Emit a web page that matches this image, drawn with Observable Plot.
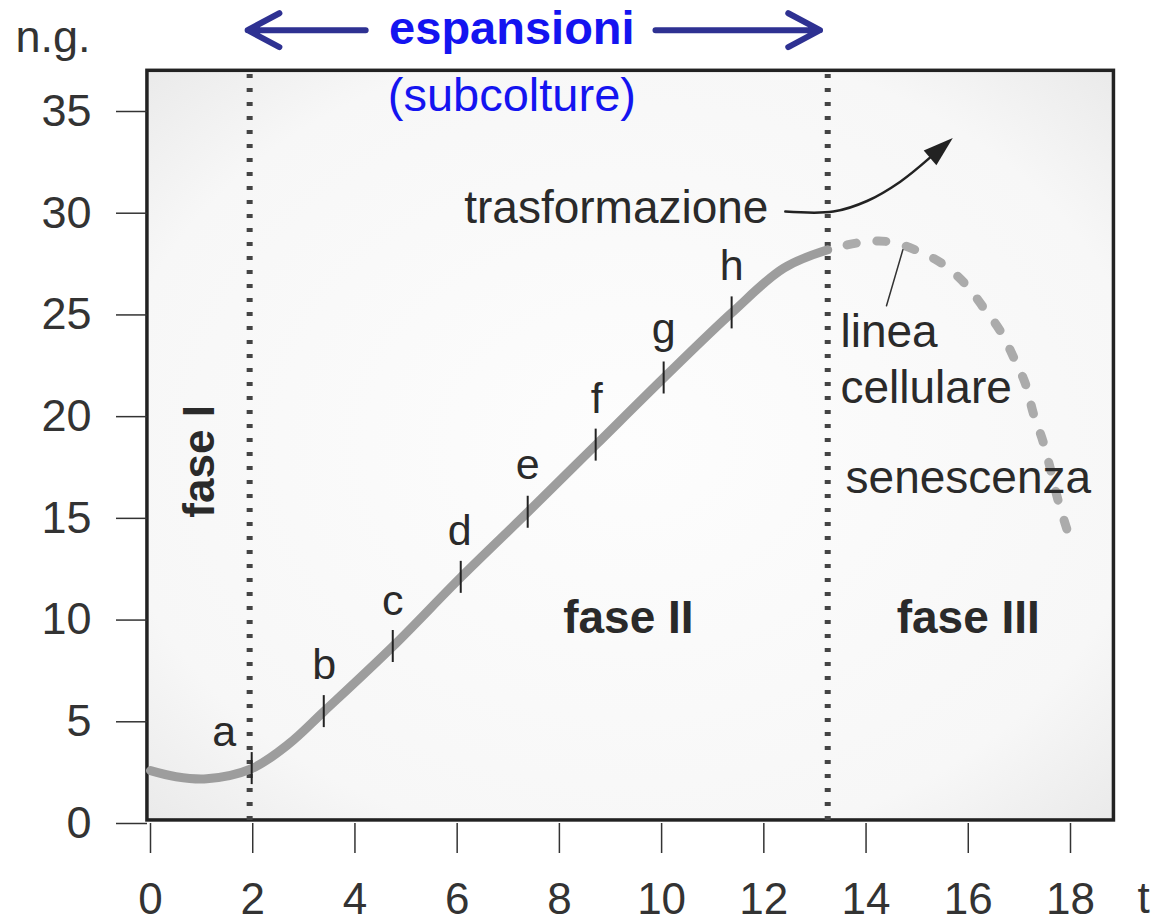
<!DOCTYPE html>
<html><head><meta charset="utf-8">
<script src="https://cdn.jsdelivr.net/npm/d3@7"></script>
<script src="https://cdn.jsdelivr.net/npm/@observablehq/plot@0.6"></script>
<style>body{margin:0;background:#fff;} #chart svg{display:block;}</style>
</head><body><div id="chart"></div>
<script>
// Axis ticks
const xTicks = [0, 2, 4, 6, 8, 10, 12, 14, 16, 18];
const yTicks = [0, 5, 10, 15, 20, 25, 30, 35];

// Growth curve (fase I + fase II): time t vs n.g.
const growthT = [0, 0.5, 1.1, 1.98, 2.7, 3.39, 4.74, 6.07, 7.38, 8.71, 10.04, 11.37, 12.39, 13.25];
const growthV = [2.6, 2.3, 2.2, 2.7, 3.9, 5.5, 8.7, 12.1, 15.3, 18.6, 21.9, 25.1, 27.3, 28.2];

// Senescence (dashed) curve, fase III
const senT = [13.25, 13.86, 14.44, 15.01, 15.5, 15.95, 16.3, 16.63, 16.89, 17.12, 17.28, 17.46, 17.61, 17.75, 17.95];
const senV = [28.2, 28.55, 28.6, 28.15, 27.5, 26.5, 25.35, 24.2, 22.9, 21.6, 20.1, 18.8, 17.4, 15.95, 14.3];

// Subculture marks a–h on the curve
const subNames = ["a", "b", "c", "d", "e", "f", "g", "h"];
const subT = [1.98, 3.39, 4.74, 6.07, 7.38, 8.71, 10.04, 11.37];
const subV = [2.7, 5.5, 8.7, 12.1, 15.3, 18.6, 21.9, 25.1];
const subLabelT = [1.44, 3.4, 4.74, 6.05, 7.38, 8.73, 10.04, 11.37];
const subLabelV = [4.5, 7.8, 10.95, 14.35, 17.6, 20.85, 24.3, 27.4];

// Phase boundaries (dotted lines)
const boundaries = [1.94, 13.25];

// Plot frame extents
const frameX = [-0.06, 18.85];
const frameY = [0.15, 37.0];

// Transformation arrow path
const transfT = [12.42, 13.36, 14.02, 14.67, 15.25];
const transfV = [30.08, 30.08, 30.6, 31.55, 32.73];
const transfHead = {t: 15.43, v: 33.11};

// Pointer from "linea cellulare" to the senescence curve
const pointerT = [14.72, 14.40];
const pointerV = [28.2, 25.45];

// Blue expansion arrows (top)
const expArrows = [
  {t1: 4.21, t2: 1.9, v: 39.0},
  {t1: 9.88, t2: 13.1, v: 39.0}
];

// Text annotations
const annEnd = [{text: "trasformazione", t: 12.09, v: 30.25}];
const annStart = [
  {text: "linea", t: 13.5, v: 24.17},
  {text: "cellulare", t: 13.5, v: 21.4},
  {text: "senescenza", t: 13.6, v: 16.97}
];
const annPhases = [
  {text: "fase II", t: 9.35, v: 10.1},
  {text: "fase III", t: 16.0, v: 10.1}
];
const phaseI = [{text: "fase I", t: 0.96, v: 17.8}];
const blueTitle = [{text: "espansioni", t: 7.07, v: 39.06}];
const blueSub = [{text: "(subcolture)", t: 7.07, v: 35.77}];
const yLabel = [{text: "n.g.", t: -2.64, v: 38.63}];
const xLabel = [{text: "t", t: 19.43, v: -3.7}];

const growth = growthT.map((t, i) => ({t, v: growthV[i]}));
const sen = senT.map((t, i) => ({t, v: senV[i]}));
const subs = subNames.map((n, i) => ({n, t: subT[i], v: subV[i], lt: subLabelT[i], lv: subLabelV[i]}));
const transf = transfT.map((t, i) => ({t, v: transfV[i]}));
const pointer = pointerT.map((t, i) => ({t, v: pointerV[i]}));

const arrowHeadSymbol = {
  draw(ctx, size) {
    const s = Math.sqrt(size);
    ctx.moveTo(0, -s * 0.6);
    ctx.lineTo(s * 0.32, s * 0.4);
    ctx.lineTo(-s * 0.32, s * 0.4);
    ctx.closePath();
  }
};

const FONT = "'Liberation Sans', Arial, Helvetica, sans-serif";
const INK = "#2a2a2a";

const chart = Plot.plot({
  width: 1155,
  height: 924,
  marginLeft: 150,
  marginRight: 85,
  marginTop: 111,
  marginBottom: 101,
  style: {fontFamily: FONT, background: "#fff", overflow: "visible"},
  x: {domain: [0, 18], axis: null},
  y: {domain: [0, 35], axis: null},
  marks: [
    // frame
    Plot.rect([{x1: frameX[0], x2: frameX[1], y1: frameY[0], y2: frameY[1]}],
      {x1: "x1", x2: "x2", y1: "y1", y2: "y2", fill: "url(#bgGrad)", stroke: "#222", strokeWidth: 3.5}),
    // axes
    Plot.axisY(yTicks, {tickSize: 31, tickPadding: 25, dx: -3, fontSize: 45, stroke: "#333", fill: "#333", strokeWidth: 1.5, label: null}),
    Plot.axisX(xTicks, {tickSize: 30, tickPadding: 29, fontSize: 44, stroke: "#333", fill: "#333", strokeWidth: 1.5, label: null}),
    // dotted phase boundaries
    Plot.ruleX(boundaries, {y1: frameY[0], y2: frameY[1], stroke: "#444", strokeWidth: 6, strokeDasharray: "4,10"}),
    // growth curve
    Plot.line(growth, {x: "t", y: "v", curve: "catmull-rom", stroke: "#9d9d9d", strokeWidth: 9}),
    // senescence dashed curve
    Plot.line(sen, {x: "t", y: "v", curve: "catmull-rom", stroke: "#ababab", strokeWidth: 9, strokeDasharray: "9,21", strokeDashoffset: -20}),
    // subculture ticks
    Plot.ruleX(subs, {x: "t", y1: "v", y2: "v", insetTop: -16, insetBottom: -16, stroke: "#222", strokeWidth: 2}),
    Plot.text(subs, {x: "lt", y: "lv", text: "n", fontSize: 43, fill: INK}),
    // transformation arrow
    Plot.line(transf, {x: "t", y: "v", curve: "catmull-rom", stroke: "#222", strokeWidth: 2.5}),
    Plot.dot([transfHead], {x: "t", y: "v", symbol: arrowHeadSymbol, r: 17, rotate: 49, fill: "#222", stroke: "none"}),
    // pointer
    Plot.line(pointer, {x: "t", y: "v", stroke: "#333", strokeWidth: 1.5}),
    // annotations
    Plot.text(annEnd, {x: "t", y: "v", text: "text", textAnchor: "end", fontSize: 46, fill: INK}),
    Plot.text(annStart, {x: "t", y: "v", text: "text", textAnchor: "start", fontSize: 46, fill: INK}),
    Plot.text(annPhases, {x: "t", y: "v", text: "text", fontSize: 46, fontWeight: "bold", fill: INK}),
    Plot.text(phaseI, {x: "t", y: "v", text: "text", fontSize: 44, fontWeight: "bold", rotate: -90, fill: INK}),
    Plot.text(yLabel, {x: "t", y: "v", text: "text", textAnchor: "start", fontSize: 45, fill: "#333"}),
    Plot.text(xLabel, {x: "t", y: "v", text: "text", fontSize: 44, fill: "#333"}),
    // blue header
    Plot.arrow(expArrows, {x1: "t1", x2: "t2", y1: "v", y2: "v", stroke: "#2e3192", strokeWidth: 6, headLength: 9, headAngle: 56, strokeLinecap: "round"}),
    Plot.text(blueTitle, {x: "t", y: "v", text: "text", fontSize: 47, fontWeight: "bold", fill: "#1414f0"}),
    Plot.text(blueSub, {x: "t", y: "v", text: "text", fontSize: 47, fill: "#1414f0"})
  ]
});

const svg = d3.select(chart);
const defs = svg.insert("defs", ":first-child");
const grad = defs.append("radialGradient").attr("id", "bgGrad").attr("cx", "50%").attr("cy", "50%").attr("r", "72%");
grad.append("stop").attr("offset", "0%").attr("stop-color", "#fdfdfd");
grad.append("stop").attr("offset", "75%").attr("stop-color", "#f7f7f7");
grad.append("stop").attr("offset", "100%").attr("stop-color", "#e9e9e9");

document.getElementById("chart").appendChild(chart);
</script>
</body></html>
